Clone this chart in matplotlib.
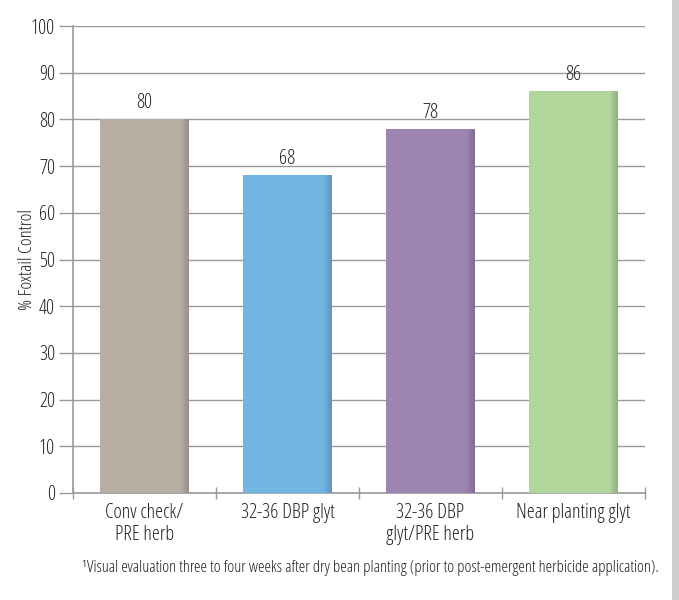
import numpy as np
import matplotlib.pyplot as plt
from matplotlib.patches import Rectangle
from matplotlib import colors as mcolors

plt.rcParams['font.family'] = ['Open Sans', 'DejaVu Sans']
plt.rcParams['font.stretch'] = 'condensed'
plt.rcParams['font.weight'] = 'medium'

categories = ['Conv check/\nPRE herb', '32-36 DBP glyt', '32-36 DBP\nglyt/PRE herb', 'Near planting glyt']
control = [80, 68, 78, 86]
bar_colors = ['#b8ada3', '#72b4e2', '#9e84b0', '#b0d69c']
yticks = np.arange(0, 101, 10)
note = '\u00b9Visual evaluation three to four weeks after dry bean planting (prior to post-emergent herbicide application).'

fig = plt.figure(figsize=(6.79, 6.0), dpi=100)
ax = fig.add_axes([73 / 679, 1 - 493 / 600, (645 - 73) / 679, (493 - 26) / 600])

x = np.arange(len(categories))
width = 0.62
bars = ax.bar(x, control, width=width, color=bar_colors, zorder=3)

# darker shade along the right edge of each bar
for b, c in zip(bars, bar_colors):
    dark = np.array(mcolors.to_rgb(c)) * 0.78
    n = 8
    sw = b.get_width() * 0.09
    for i in range(n):
        a = (i + 1) / n * 0.8
        ax.add_patch(Rectangle((b.get_x() + b.get_width() - sw + i * sw / n, 0), sw / n, b.get_height(),
                               facecolor=dark, alpha=a, lw=0, zorder=4))
    ax.text(b.get_x() + b.get_width() / 2, b.get_height() + 1.3, str(int(b.get_height())),
            ha='center', va='bottom', fontsize=14.5, color='#222222', zorder=5)

ax.set_xlim(-0.5, len(categories) - 0.5)
ax.set_ylim(0, 100)
ax.set_yticks(yticks)
ax.set_yticklabels([str(v) for v in yticks], fontsize=14.5, color='#222222')
ax.yaxis.grid(True, color='#9a9a9a', lw=1, zorder=0)
ax.tick_params(axis='y', length=10, width=1, color='#9a9a9a', pad=3)

ax.set_xticks(np.arange(-0.5, len(categories), 1))
ax.set_xticklabels([])
ax.set_xticks(x, minor=True)
ax.set_xticklabels(categories, minor=True, fontsize=14.5, color='#222222', va='top', linespacing=1.15)
ax.tick_params(axis='x', which='major', length=8, width=1, color='#9a9a9a', direction='inout')
ax.tick_params(axis='x', which='minor', length=0, pad=7)

for s in ['top', 'right']:
    ax.spines[s].set_visible(False)
for s in ['left', 'bottom']:
    ax.spines[s].set_color('#9a9a9a')
    ax.spines[s].set_linewidth(1.2)

fig.text(27 / 679, 1 - 259 / 600, '% Foxtail Control', rotation=90, ha='center', va='center',
         fontsize=13.5, color='#222222')

fig.text(370 / 679, 1 - 568 / 600, note, ha='center', va='center', fontsize=12, color='#222222')

# grey page edge on the right
fig.patches.append(Rectangle((672 / 679, 0), 7 / 679, 1, transform=fig.transFigure,
                             facecolor='#cfcfcf', edgecolor='none'))

fig.savefig('out.png', dpi=100)
